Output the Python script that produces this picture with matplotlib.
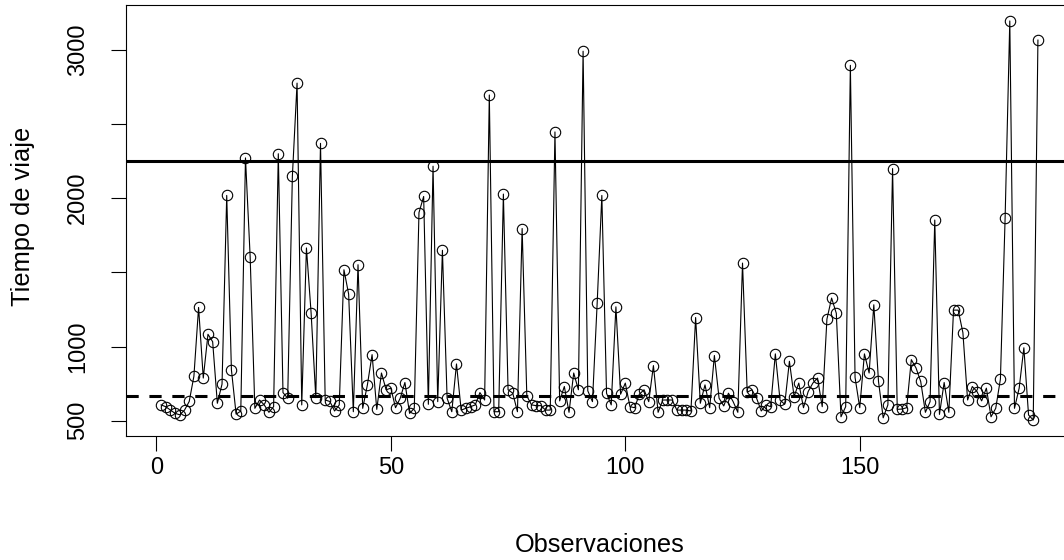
import numpy as np
import matplotlib
matplotlib.use("Agg")
import matplotlib.pyplot as plt

plt.rcParams['font.family'] = ['Liberation Sans', 'DejaVu Sans']

tiempo = [
    607, 595, 572, 550, 540, 572, 630, 800, 1264, 788,
    1083, 1033, 618, 747, 2019, 844, 545, 565, 2272, 1604,
    584, 640, 607, 557, 595, 2300, 690, 652, 2148, 2776,
    607, 1665, 1225, 656, 2370, 640, 630, 566, 607, 1518,
    1354, 561, 1552, 584, 742, 946, 577, 822, 709, 720,
    588, 652, 758, 550, 584, 1903, 2012, 611, 2216, 629,
    1649, 652, 561, 883, 572, 584, 595, 607, 690, 640,
    2696, 561, 561, 2028, 709, 686, 561, 1796, 668, 607,
    602, 602, 572, 572, 2447, 634, 731, 557, 822, 709,
    2991, 702, 629, 1291, 2019, 686, 607, 1268, 679, 754,
    595, 588, 679, 709, 629, 872, 557, 640, 640, 640,
    572, 572, 572, 566, 1196, 618, 742, 588, 940, 652,
    600, 686, 629, 557, 1563, 693, 709, 652, 566, 607,
    595, 951, 640, 611, 901, 663, 754, 588, 697, 754,
    788, 595, 1185, 1327, 1225, 527, 595, 2896, 792, 588,
    951, 822, 1282, 765, 520, 607, 2200, 577, 579, 588,
    912, 856, 765, 557, 629, 1853, 543, 758, 557, 1246,
    1246, 1094, 640, 731, 697, 634, 720, 527, 584, 781,
    1864, 3195, 584, 720, 992, 539, 505, 3066,
]
obs = np.arange(1, len(tiempo) + 1)

limite_sup = 2250   # solid line
centro = 669        # dashed line

y_ticks = [500, 1000, 1500, 2000, 2500, 3000]
y_labels = ["500", "1000", "", "2000", "", "3000"]
x_ticks = [0, 50, 100, 150]

W, H = 1064, 560
fig = plt.figure(figsize=(W / 100, H / 100), dpi=100)
# plot box runs a little past the right edge, as in the original
ax = fig.add_axes([126 / W, 1 - 436 / H, (1073 - 126) / W, (436 - 5) / H])

ax.plot(obs, tiempo, color='black', lw=0.8, marker='o', ms=7.5,
        mfc='none', mec='black', mew=0.8)
ax.axhline(limite_sup, color='black', lw=2.2)
ax.axhline(centro, color='black', lw=2.2, ls=(0, (4, 3.5)))

n = len(tiempo)
xr = (n - 1) * 0.04
ax.set_xlim(1 - xr, n + xr)
ymin, ymax = min(tiempo), max(tiempo)
yr = (ymax - ymin) * 0.04
ax.set_ylim(ymin - yr, ymax + yr)

ax.set_xticks(x_ticks)
ax.set_xticklabels([str(t) for t in x_ticks])
ax.set_yticks(y_ticks)
ax.set_yticklabels(y_labels, rotation=90, va='center')
ax.tick_params(direction='out', length=10.8, width=0.8, labelsize=17,
               colors='black')
ax.tick_params(axis='x', pad=4)
ax.tick_params(axis='y', pad=16)
for s in ax.spines.values():
    s.set_linewidth(0.8)

fig.text(600 / W, 1 - 545 / H, "Observaciones", ha='center', va='center',
         fontsize=18.3)
fig.text(23 / W, 1 - 216 / H, "Tiempo de viaje", ha='center', va='center',
         rotation=90, fontsize=18.3)

fig.savefig("out.png", dpi=100)
